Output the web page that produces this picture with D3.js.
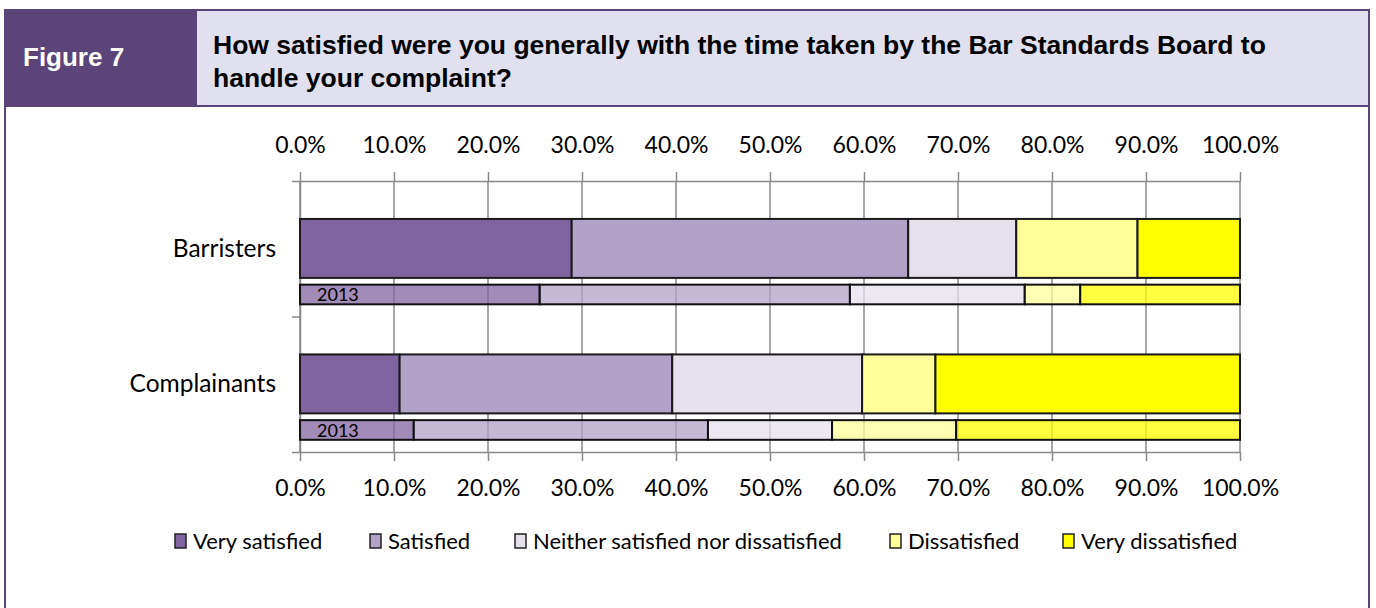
<!DOCTYPE html>
<html><head><meta charset="utf-8">
<script src="https://cdn.jsdelivr.net/npm/d3@7"></script>
<style>body{margin:0;background:#fff}svg{display:block}</style>
</head><body>
<svg id="c" width="1376" height="608"></svg>
<script>
const categories = ["Barristers", "Complainants"];
const seriesNames = ["Very satisfied", "Satisfied", "Neither satisfied nor dissatisfied", "Dissatisfied", "Very dissatisfied"];
const colors = ["#8064a2", "#b3a2c7", "#e5e0ec", "#ffff99", "#ffff00"];
// 2014 survey (main bars), percent
const values2014 = {
  "Barristers":   [28.9, 35.8, 11.5, 12.9, 10.9],
  "Complainants": [10.6, 29.0, 20.2, 7.8, 32.4]
};
// 2013 survey (thin bars), percent
const values2013 = {
  "Barristers":   [25.5, 33.0, 18.6, 5.9, 17.0],
  "Complainants": [12.1, 31.3, 13.2, 13.2, 30.2]
};
const tickValues = [0, 0.1, 0.2, 0.3, 0.4, 0.5, 0.6, 0.7, 0.8, 0.9, 1.0];
const figureLabel = "Figure 7";
const titleLines = ["How satisfied were you generally with the time taken by the Bar Standards Board to", "handle your complaint?"];
const label2013 = "2013";

const svg = d3.select("#c");
const purple = "#5a4479";

// header
svg.append("rect").attr("x", 5).attr("y", 10).attr("width", 1364).attr("height", 96).attr("fill", "#e1e0ee");
svg.append("rect").attr("x", 5).attr("y", 10).attr("width", 192).attr("height", 96).attr("fill", purple);
svg.append("rect").attr("x", 5).attr("y", 10).attr("width", 1364).attr("height", 640)
  .attr("fill", "none").attr("stroke", purple).attr("stroke-width", 2);
svg.append("line").attr("x1", 5).attr("x2", 1369).attr("y1", 106).attr("y2", 106).attr("stroke", purple).attr("stroke-width", 2);
svg.append("text").attr("x", 23).attr("y", 66).attr("fill", "#fff")
  .style("font", "bold 26px 'Liberation Sans', Arial, sans-serif").text(figureLabel);
svg.append("text").attr("x", 213).attr("y", 54)
  .style("font", "bold 26.5px 'Liberation Sans', Arial, sans-serif")
  .selectAll("tspan").data(titleLines).join("tspan")
  .attr("x", 213).attr("dy", (d, i) => i ? 33 : 0).text(d => d);

const x = d3.scaleLinear().domain([0, 1]).range([300, 1240]);
const y = d3.scaleBand().domain(categories).range([181, 452]);
const bw = y.bandwidth();

const font = "Lato, 'Open Sans', sans-serif";
const gridColor = "#888888";

// gridlines
svg.append("g").selectAll("line").data(tickValues).join("line")
  .attr("x1", d => x(d)).attr("x2", d => x(d)).attr("y1", 181).attr("y2", 452)
  .attr("stroke", gridColor).attr("stroke-width", 1.5);

// axes
const fmt = d3.format(".1%");
const topAxis = svg.append("g").attr("transform", "translate(0,181)")
  .call(d3.axisTop(x).tickValues(tickValues).tickFormat(fmt).tickSize(9).tickSizeOuter(0).tickPadding(19));
const botAxis = svg.append("g").attr("transform", "translate(0,452)")
  .call(d3.axisBottom(x).tickValues(tickValues).tickFormat(fmt).tickSize(9).tickSizeOuter(0).tickPadding(19));
const leftAxis = svg.append("g").attr("transform", "translate(300,0)")
  .call(d3.axisLeft(d3.scaleLinear().domain([0, 2]).range([181, 452])).tickValues([0, 1, 2]).tickFormat("").tickSize(8).tickSizeOuter(0));
[topAxis, botAxis, leftAxis].forEach(a => {
  a.selectAll("path, line").attr("stroke", gridColor).attr("stroke-width", 1.5);
  a.selectAll("text").style("font", "23px " + font).attr("fill", "#000");
});

// category labels
svg.append("g").selectAll("text").data(categories).join("text")
  .attr("x", 276).attr("y", d => y(d) + bw * 0.5 + 8)
  .attr("text-anchor", "end").style("font", "24.5px " + font).text(d => d);

function segs(vals) {
  let acc = 0;
  return vals.map((v, i) => { const s = { x0: acc, x1: acc + v, i }; acc += v; return s; });
}

// main bars
categories.forEach(cat => {
  svg.append("g").selectAll("rect").data(segs(values2014[cat])).join("rect")
    .attr("x", d => x(d.x0 / 100)).attr("width", d => x(d.x1 / 100) - x(d.x0 / 100))
    .attr("y", y(cat) + bw * 0.28).attr("height", bw * 0.435)
    .attr("fill", d => colors[d.i]).attr("stroke", "#1a1a1a").attr("stroke-width", 2);
  svg.append("g").selectAll("rect").data(segs(values2013[cat])).join("rect")
    .attr("x", d => x(d.x0 / 100)).attr("width", d => x(d.x1 / 100) - x(d.x0 / 100))
    .attr("y", y(cat) + bw * 0.765).attr("height", bw * 0.145)
    .attr("fill", d => colors[d.i]).attr("fill-opacity", 0.75)
    .attr("stroke", "#111").attr("stroke-width", 2);
  svg.append("text").attr("x", x(0) + 17).attr("y", y(cat) + bw * 0.765 + bw * 0.145 / 2 + 7)
    .style("font", "18px " + font).text(label2013);
});

// legend
const legendX = [175, 370, 515, 890, 1063];
const lg = svg.append("g").selectAll("g").data(seriesNames).join("g")
  .attr("transform", (d, i) => `translate(${legendX[i]},541)`);
lg.append("rect").attr("x", 0).attr("y", -7).attr("width", 11).attr("height", 14)
  .attr("fill", (d, i) => colors[i]).attr("stroke", "#222").attr("stroke-width", 1.5);
lg.append("text").attr("x", 18).attr("y", 8).style("font", "22px " + font).text(d => d);
</script>
</body></html>
